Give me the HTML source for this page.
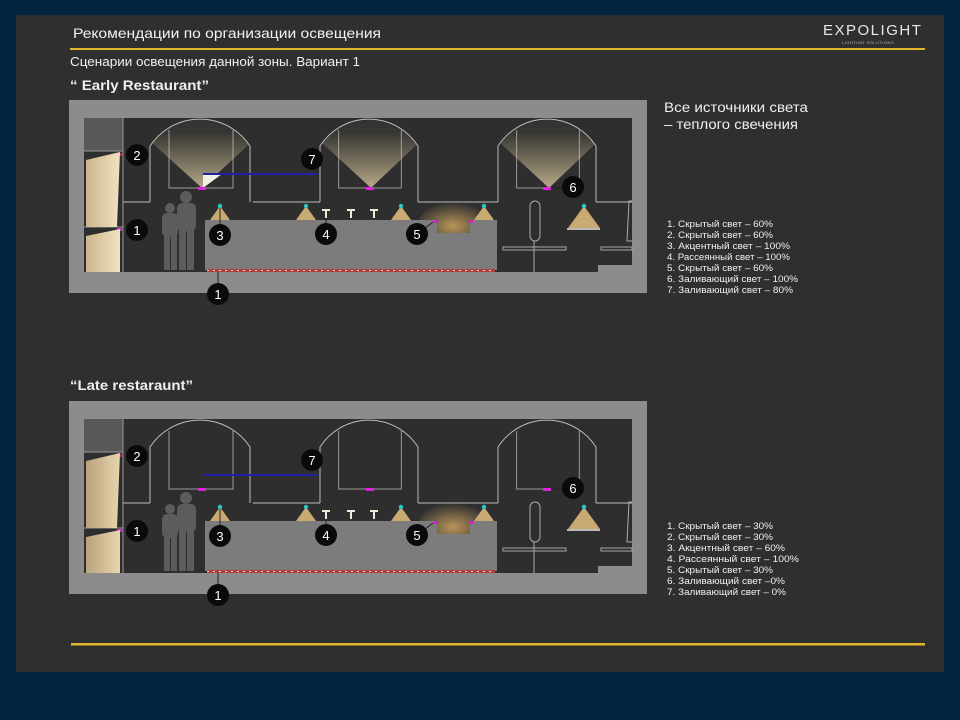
<!DOCTYPE html>
<html><head><meta charset="utf-8"><style>
html,body{margin:0;padding:0;background:#022640;}
svg{display:block}
text{font-family:"Liberation Sans","DejaVu Sans",sans-serif;}
</style></head><body>
<svg width="960" height="720" viewBox="0 0 960 720" xmlns="http://www.w3.org/2000/svg">
<defs>
<linearGradient id="cone" x1="0" y1="0" x2="0" y2="1">
<stop offset="0" stop-color="#d8c49a" stop-opacity="0"/>
<stop offset="0.35" stop-color="#d8c49a" stop-opacity="0.05"/>
<stop offset="1" stop-color="#e6d3a8" stop-opacity="0.75"/>
</linearGradient>
<linearGradient id="wall" x1="0" y1="0" x2="1" y2="0">
<stop offset="0" stop-color="#cdb68c"/>
<stop offset="1" stop-color="#f0e2c0"/>
</linearGradient>
<linearGradient id="wall2" x1="0" y1="0" x2="1" y2="0">
<stop offset="0" stop-color="#b9a27a"/>
<stop offset="1" stop-color="#e8d6b0"/>
</linearGradient>
<radialGradient id="glow" cx="0.5" cy="0.6" r="0.6">
<stop offset="0" stop-color="#b8965a"/>
<stop offset="1" stop-color="#b8965a" stop-opacity="0"/>
</radialGradient>
<clipPath id="archclip"><path d="M0,80 V24 A60,60 0 0 1 100,24 V80 Z"/></clipPath>
<g id="arch">
<path d="M0,80 V24 A60,60 0 0 1 100,24 V80" fill="none" stroke="#bdbdbd" stroke-width="1"/>
<path d="M19,8 V66 H83 V8" fill="none" stroke="#9a9a9a" stroke-width="1"/>
</g>
<g id="base">
<rect x="69" y="100" width="578" height="193" fill="#8c8c8c"/>
<path d="M84,118 H632 V265 H598 V272 H84 Z" fill="#2e2e2e"/>
<rect x="84" y="118" width="39" height="33" fill="#585858"/>
<line x1="123" y1="118" x2="123" y2="272" stroke="#9a9a9a" stroke-width="1"/>
<line x1="84" y1="151" x2="123" y2="151" stroke="#9a9a9a"/>
<line x1="84" y1="227" x2="123" y2="227" stroke="#9a9a9a"/>
<path d="M123,202 H150 M253,202 H320 M418,202 H498 M596,202 H632" stroke="#bdbdbd" stroke-width="1"/>
<ellipse cx="453" cy="222" rx="34" ry="20" fill="url(#glow)"/>
<g fill="#5c5c5c">
<circle cx="186" cy="197" r="6"/>
<rect x="177" y="203" width="19" height="28" rx="5"/>
<rect x="179" y="228" width="7" height="42"/>
<rect x="187" y="228" width="7" height="42"/>
<circle cx="170" cy="208" r="5"/>
<rect x="162" y="213" width="16" height="24" rx="5"/>
<rect x="164" y="235" width="6" height="35"/>
<rect x="171" y="235" width="6" height="35"/>
</g>
<path d="M205,220 H437 V233 H470 V220 H497 V270 H205 Z" fill="#7c7c7c"/>
<rect x="207" y="269" width="288" height="3" fill="#b04040"/>
<line x1="207" y1="270.5" x2="495" y2="270.5" stroke="#e8d8d8" stroke-width="1" stroke-dasharray="2 4"/>
<g fill="#c9aa72">
<polygon points="220,206 210,220 230,220"/>
<polygon points="306,206 296,220 316,220"/>
<polygon points="401,206 391,220 411,220"/>
<polygon points="484,206 474,220 494,220"/>
<polygon points="584,206 568,228 600,228"/>
</g>
<rect x="567" y="228" width="33" height="2" fill="#bbb"/>
<g fill="#2ec7c7">
<circle cx="220" cy="206" r="2.2"/><circle cx="306" cy="206" r="2.2"/>
<circle cx="401" cy="206" r="2.2"/><circle cx="484" cy="206" r="2.2"/>
<circle cx="584" cy="206" r="2.2"/>
</g>
<g fill="#f2ead8">
<rect x="322" y="209" width="8" height="2"/><rect x="325" y="209" width="2" height="9"/>
<rect x="347" y="209" width="8" height="2"/><rect x="350" y="209" width="2" height="9"/>
<rect x="370" y="209" width="8" height="2"/><rect x="373" y="209" width="2" height="9"/>
</g>
<rect x="434" y="220" width="4" height="3" fill="#d020d0"/>
<rect x="469" y="220" width="4" height="3" fill="#d020d0"/>
<rect x="530" y="201" width="10" height="40" rx="5" fill="none" stroke="#aaa"/>
<line x1="534" y1="241" x2="534" y2="272" stroke="#aaa"/>
<rect x="503" y="247" width="63" height="3" fill="none" stroke="#aaa"/>
<rect x="601" y="247" width="31" height="3" fill="none" stroke="#aaa"/>
<path d="M632,201 H629 L627,241 H632" fill="none" stroke="#aaa"/>
<use href="#arch" transform="translate(150,122)"/>
<use href="#arch" transform="translate(320,122) scale(0.98,1)"/>
<use href="#arch" transform="translate(498,122) scale(0.98,1)"/>
<rect x="203" y="173" width="115" height="2" fill="#2020a8"/>
<rect x="198" y="187" width="8" height="3" fill="#e020e0"/>
<rect x="366" y="187" width="8" height="3" fill="#e020e0"/>
<rect x="543" y="187" width="8" height="3" fill="#e020e0"/>
<rect x="117" y="153" width="5" height="3" fill="#d02050"/>
<rect x="117" y="228" width="5" height="3" fill="#d020d0"/>
<path d="M218,272 V290 M220,208 V232 M326,218 V230 M433,222 L420,232 M551,188 H570" stroke="#222" stroke-width="1"/>
</g>
</defs>

<rect x="16" y="15" width="928" height="657" fill="#2f2f2f"/>
<text x="73" y="38" font-size="14" fill="#f2f2f2" textLength="308" lengthAdjust="spacingAndGlyphs">Рекомендации по организации освещения</text>
<text x="823" y="35" font-size="15" fill="#e8e8e8" letter-spacing="1.5">EXPOLIGHT</text>
<text x="842" y="44" font-size="4" fill="#bbb" letter-spacing="0.5">LIGHTING SOLUTIONS</text>
<rect x="70" y="48" width="855" height="2" fill="#e1b62a"/>
<text x="70" y="66" font-size="12.5" fill="#f0f0f0" textLength="290" lengthAdjust="spacingAndGlyphs">Сценарии освещения данной зоны. Вариант 1</text>
<text x="70" y="90" font-size="14" font-weight="bold" fill="#f0f0f0" textLength="139" lengthAdjust="spacingAndGlyphs">“ Early Restaurant”</text>

<use href="#base"/>
<polygon points="86,160 120,152 117,227 86,227" fill="url(#wall)"/>
<polygon points="86,236 120,229 120,272 86,272" fill="url(#wall)"/>
<g transform="translate(150,122)" clip-path="url(#archclip)"><polygon points="52,66 -10,10 -10,-20 112,-20 112,10" fill="url(#cone)"/></g>
<g transform="translate(320,122) scale(0.98,1)" clip-path="url(#archclip)"><polygon points="52,66 -10,10 -10,-20 112,-20 112,10" fill="url(#cone)"/></g>
<g transform="translate(498,122) scale(0.98,1)" clip-path="url(#archclip)"><polygon points="52,66 -10,10 -10,-20 112,-20 112,10" fill="url(#cone)"/></g>
<polygon points="203,174 222,174 203,188" fill="#f4f0e6"/>
<rect x="198" y="187" width="8" height="3" fill="#e020e0"/>
<rect x="366" y="187" width="8" height="3" fill="#e020e0"/>
<rect x="543" y="187" width="8" height="3" fill="#e020e0"/>
<rect x="203" y="173" width="115" height="2" fill="#2020a8"/>

<g fill="#0a0a0a">
<circle cx="137" cy="155" r="11"/><circle cx="137" cy="230" r="11"/>
<circle cx="220" cy="235" r="11"/><circle cx="326" cy="234" r="11"/>
<circle cx="417" cy="234" r="11"/><circle cx="312" cy="159" r="11"/>
<circle cx="573" cy="187" r="11"/><circle cx="218" cy="294" r="11"/>
</g>
<g fill="#fff" font-size="13" text-anchor="middle">
<text x="137" y="160">2</text><text x="137" y="235">1</text>
<text x="220" y="240">3</text><text x="326" y="239">4</text>
<text x="417" y="239">5</text><text x="312" y="164">7</text>
<text x="573" y="192">6</text><text x="218" y="299">1</text>
</g>

<text x="664" y="112" font-size="13.5" fill="#f0f0f0" textLength="144" lengthAdjust="spacingAndGlyphs">Все источники света</text>
<text x="664" y="129" font-size="13.5" fill="#f0f0f0" textLength="134" lengthAdjust="spacingAndGlyphs">– теплого свечения</text>
<g font-size="9" fill="#f0f0f0" lengthAdjust="spacingAndGlyphs">
<text x="667" y="227" textLength="106" lengthAdjust="spacingAndGlyphs">1. Скрытый свет – 60%</text>
<text x="667" y="238" textLength="106" lengthAdjust="spacingAndGlyphs">2. Скрытый свет – 60%</text>
<text x="667" y="249" textLength="123" lengthAdjust="spacingAndGlyphs">3. Акцентный свет – 100%</text>
<text x="667" y="260" textLength="123" lengthAdjust="spacingAndGlyphs">4. Рассеянный свет – 100%</text>
<text x="667" y="271" textLength="106" lengthAdjust="spacingAndGlyphs">5. Скрытый свет – 60%</text>
<text x="667" y="282" textLength="131" lengthAdjust="spacingAndGlyphs">6. Заливающий свет – 100%</text>
<text x="667" y="293" textLength="126" lengthAdjust="spacingAndGlyphs">7. Заливающий свет – 80%</text>
</g>

<text x="70" y="390" font-size="14" font-weight="bold" fill="#f0f0f0" textLength="123" lengthAdjust="spacingAndGlyphs">“Late restaraunt”</text>

<g transform="translate(0,301)">
<use href="#base"/>
<polygon points="86,160 120,152 117,227 86,227" fill="url(#wall2)"/>
<polygon points="86,236 120,229 120,272 86,272" fill="url(#wall2)"/>
<g fill="#0a0a0a">
<circle cx="137" cy="155" r="11"/><circle cx="137" cy="230" r="11"/>
<circle cx="220" cy="235" r="11"/><circle cx="326" cy="234" r="11"/>
<circle cx="417" cy="234" r="11"/><circle cx="312" cy="159" r="11"/>
<circle cx="573" cy="187" r="11"/><circle cx="218" cy="294" r="11"/>
</g>
<g fill="#fff" font-size="13" text-anchor="middle">
<text x="137" y="160">2</text><text x="137" y="235">1</text>
<text x="220" y="240">3</text><text x="326" y="239">4</text>
<text x="417" y="239">5</text><text x="312" y="164">7</text>
<text x="573" y="192">6</text><text x="218" y="299">1</text>
</g>
</g>
<g font-size="9" fill="#f0f0f0">
<text x="667" y="529" textLength="106" lengthAdjust="spacingAndGlyphs">1. Скрытый свет – 30%</text>
<text x="667" y="540" textLength="106" lengthAdjust="spacingAndGlyphs">2. Скрытый свет – 30%</text>
<text x="667" y="551" textLength="118" lengthAdjust="spacingAndGlyphs">3. Акцентный свет – 60%</text>
<text x="667" y="562" textLength="132" lengthAdjust="spacingAndGlyphs">4. Рассеянный свет – 100%</text>
<text x="667" y="573" textLength="106" lengthAdjust="spacingAndGlyphs">5. Скрытый свет – 30%</text>
<text x="667" y="584" textLength="118" lengthAdjust="spacingAndGlyphs">6. Заливающий свет –0%</text>
<text x="667" y="595" textLength="119" lengthAdjust="spacingAndGlyphs">7. Заливающий свет – 0%</text>
</g>

<rect x="71" y="643" width="854" height="2.5" fill="#e1b62a"/>
</svg>
</body></html>
